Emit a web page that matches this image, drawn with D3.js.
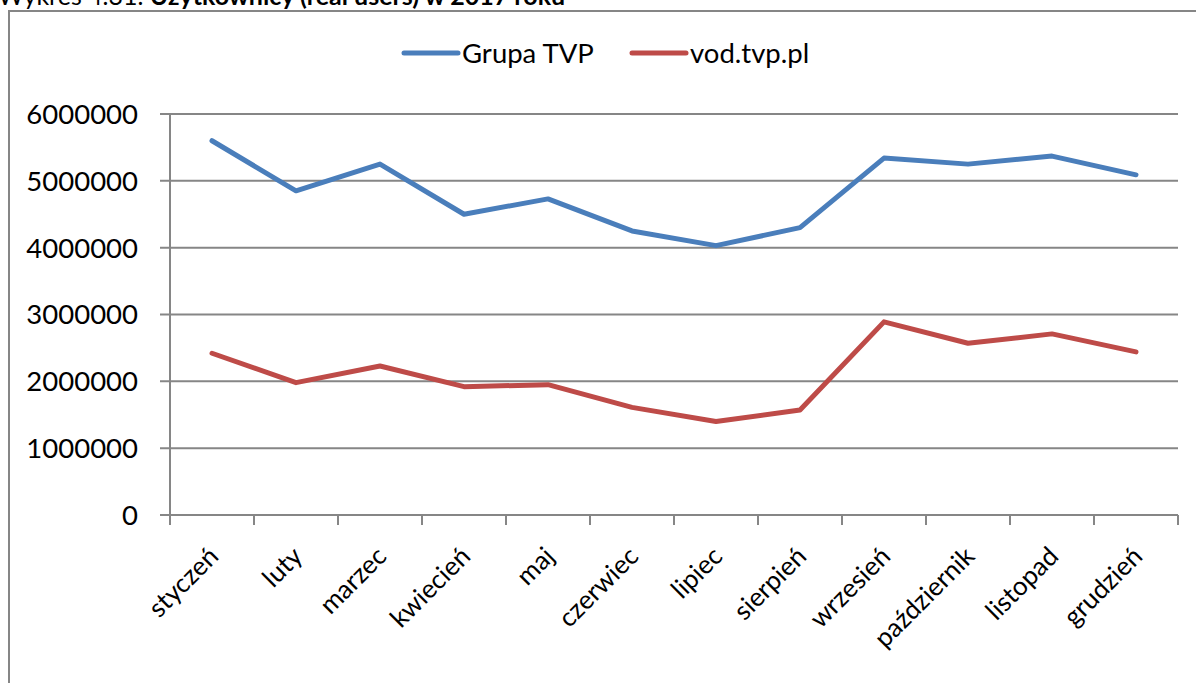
<!DOCTYPE html>
<html>
<head>
<meta charset="utf-8">
<script src="https://cdn.jsdelivr.net/npm/d3@7"></script>
<style>
  body { margin: 0; background: #fff; }
  svg { display: block; font-family: Lato, "Open Sans", sans-serif; }
</style>
</head>
<body>
<svg width="1196" height="683"></svg>
<script>
let months = ["styczeń", "luty", "marzec", "kwiecień", "maj", "czerwiec", "lipiec", "sierpień", "wrzesień", "październik", "listopad", "grudzień"];
let grupa_tvp = [5600000, 4850000, 5250000, 4500000, 4730000, 4250000, 4030000, 4300000, 5340000, 5250000, 5370000, 5090000];
let vod_tvp = [2420000, 1980000, 2230000, 1920000, 1950000, 1610000, 1400000, 1570000, 2890000, 2570000, 2710000, 2440000];
let y_ticks = [0, 1000000, 2000000, 3000000, 4000000, 5000000, 6000000];
let series_names = ["Grupa TVP", "vod.tvp.pl"];
let series_colors = ["#4a7ebb", "#be4b48"];

var svg = d3.select("svg");
var margin = {top: 114, right: 18, bottom: 168, left: 170};
var width = 1196 - margin.left - margin.right;
var height = 683 - margin.top - margin.bottom;

// title (cut off at top like the source)
var title = svg.append("text").attr("x", -2).attr("y", 5).attr("font-size", "25px").attr("fill", "#000");
title.append("tspan").text("Wykres 4.31. ");
title.append("tspan").attr("font-weight", "bold").text("Użytkownicy (real users) w 2017 roku");

// chart frame
svg.append("rect")
  .attr("x", 9).attr("y", 11)
  .attr("width", 1300).attr("height", 800)
  .attr("fill", "#fff")
  .attr("stroke", "#868686")
  .attr("stroke-width", 2);

var x = d3.scaleBand().domain(months).range([0, width]);
var y = d3.scaleLinear().domain([0, 6000000]).range([height, 0]);

var g = svg.append("g").attr("transform", "translate(" + margin.left + "," + margin.top + ")");

// grid + y axis
g.selectAll(".grid")
  .data(y_ticks)
  .enter().append("line")
    .attr("x1", -10).attr("x2", width)
    .attr("y1", d => y(d)).attr("y2", d => y(d))
    .attr("stroke", "#868686")
    .attr("stroke-width", 2);

g.selectAll(".ylab")
  .data(y_ticks)
  .enter().append("text")
    .attr("x", -32)
    .attr("y", d => y(d))
    .attr("dy", "0.36em")
    .attr("text-anchor", "end")
    .attr("font-size", "27.5px")
    .text(d => d);

g.append("line")
  .attr("x1", 0).attr("x2", 0)
  .attr("y1", 0).attr("y2", height)
  .attr("stroke", "#868686").attr("stroke-width", 2);

// x ticks
var x_tick_pos = months.map(m => x(m)).concat([width]);
g.selectAll(".xtick")
  .data(x_tick_pos)
  .enter().append("line")
    .attr("x1", d => d).attr("x2", d => d)
    .attr("y1", height).attr("y2", height + 10)
    .attr("stroke", "#868686").attr("stroke-width", 2);

g.selectAll(".xlab")
  .data(months)
  .enter().append("text")
    .attr("text-anchor", "end")
    .attr("font-size", "26px")
    .attr("transform", d => "translate(" + (x(d) + x.bandwidth() / 2 + 8) + "," + (height + 43) + ") rotate(-45)")
    .text(d => d);

// lines
var line = d3.line()
  .x((d, i) => x(months[i]) + x.bandwidth() / 2)
  .y(d => y(d));

[grupa_tvp, vod_tvp].forEach(function(s, k) {
  g.append("path")
    .attr("d", line(s))
    .attr("fill", "none")
    .attr("stroke", series_colors[k])
    .attr("stroke-width", 5)
    .attr("stroke-linejoin", "round")
    .attr("stroke-linecap", "round");
});

// legend
var legend_x = [404, 632];
series_names.forEach(function(name, k) {
  svg.append("line")
    .attr("x1", legend_x[k]).attr("x2", legend_x[k] + 54)
    .attr("y1", 53).attr("y2", 53)
    .attr("stroke", series_colors[k])
    .attr("stroke-width", 5)
    .attr("stroke-linecap", "round");
  svg.append("text")
    .attr("x", legend_x[k] + 58)
    .attr("y", 53)
    .attr("dy", "0.36em")
    .attr("font-size", "27.5px")
    .text(name);
});
</script>
</body>
</html>
